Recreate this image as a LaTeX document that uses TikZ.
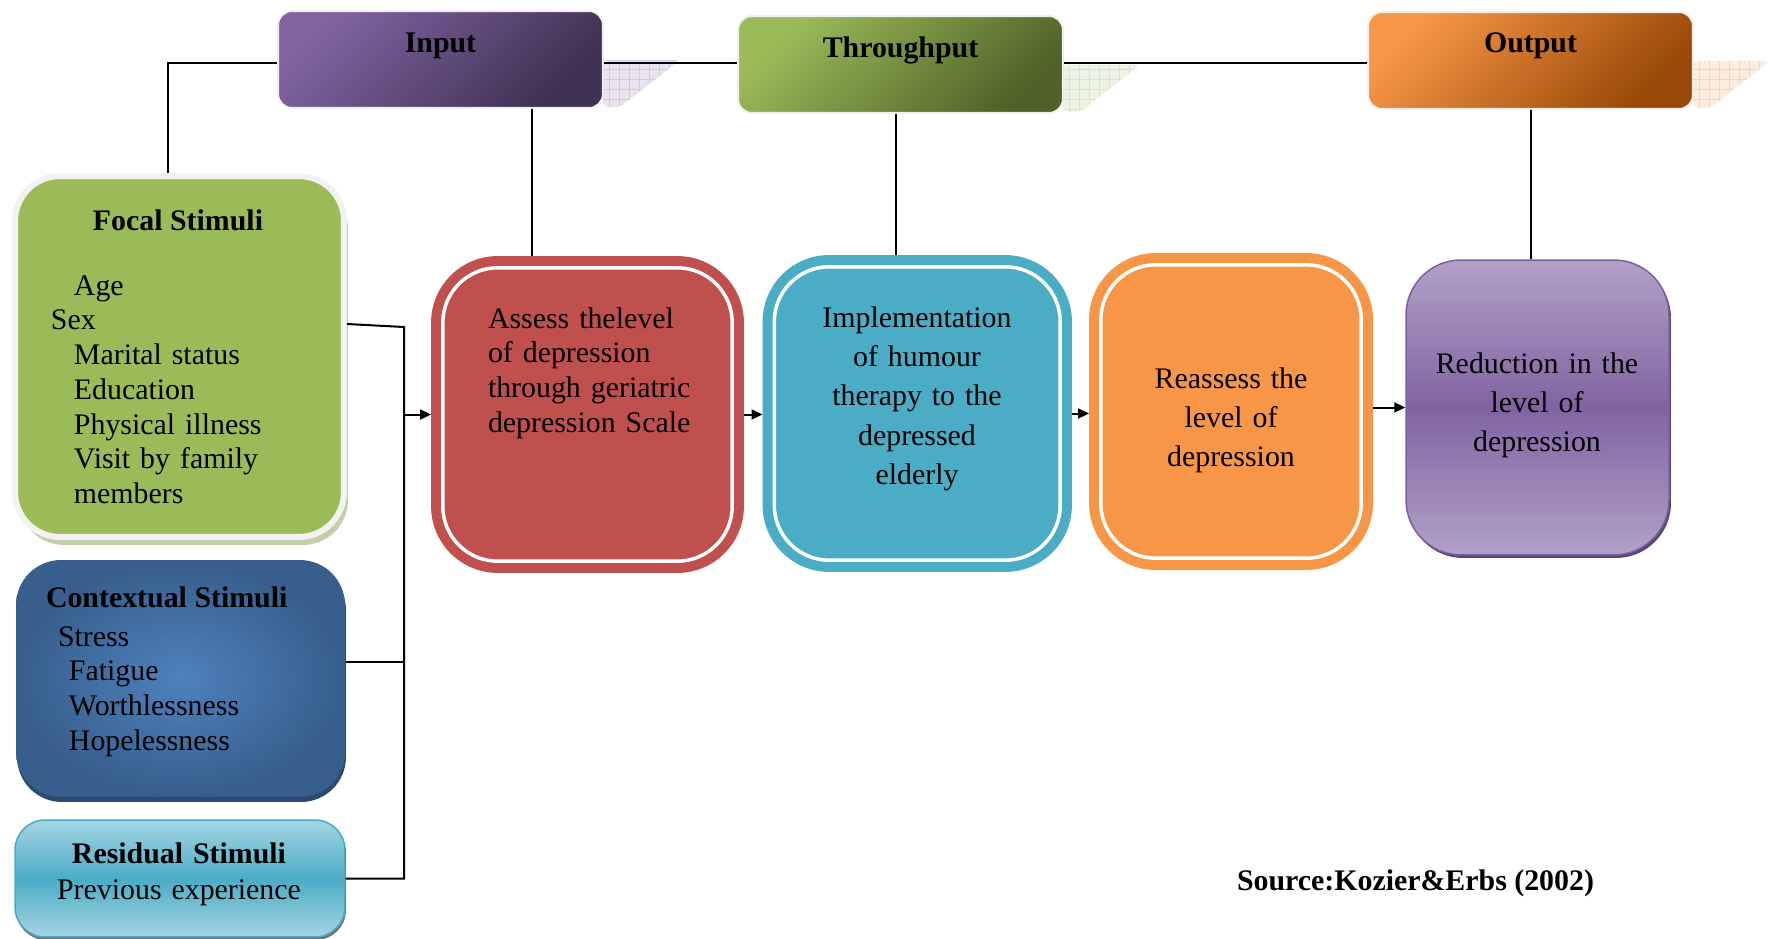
\documentclass[tikz,border=0pt]{standalone}
\usepackage{fontspec}
\setmainfont{Liberation Serif}
\usetikzlibrary{arrows.meta,shadows}

\definecolor{inA}{HTML}{8064A2}
\definecolor{inB}{HTML}{3F3151}
\definecolor{thA}{HTML}{9BBB59}
\definecolor{thB}{HTML}{4F6228}
\definecolor{outA}{HTML}{F79646}
\definecolor{outB}{HTML}{984807}
\definecolor{focgreen}{HTML}{9BBB59}
\definecolor{focborder}{HTML}{F2F2F2}
\definecolor{focshadow}{HTML}{C3CFA8}
\definecolor{ctxin}{HTML}{4F81BD}
\definecolor{ctxout}{HTML}{375E8C}
\definecolor{ctxdark}{HTML}{2A4A70}
\definecolor{resA}{HTML}{A5D5E2}
\definecolor{resB}{HTML}{4BACC6}
\definecolor{resline}{HTML}{46AAC5}
\definecolor{redfill}{HTML}{C0504D}
\definecolor{bluefill}{HTML}{4BACC6}
\definecolor{orangefill}{HTML}{F79646}
\definecolor{purA}{HTML}{B2A1C7}
\definecolor{purB}{HTML}{8064A2}
\definecolor{purline}{HTML}{7A5F9E}
\definecolor{purdark}{HTML}{5B4577}
\definecolor{infold}{HTML}{E8E3EF}
\definecolor{ingrid}{HTML}{D2C8E0}
\definecolor{thfold}{HTML}{EEF4E3}
\definecolor{thgrid}{HTML}{D8E6C0}
\definecolor{outfold}{HTML}{FDEBDD}
\definecolor{outgrid}{HTML}{F9D2B3}

\newcommand{\txtsize}{\fontsize{17}{19.8}\selectfont}
\newcommand{\boxsize}{\fontsize{17}{22.4}\selectfont}

\begin{document}
\begin{tikzpicture}[x=0.02cm,y=-0.02cm,line width=0.04cm,font=\txtsize,
    >={Triangle[length=0.22cm,width=0.2cm]}]
    \tikzstyle{hdr}=[rounded corners=0.28cm,minimum width=6.5cm,minimum height=1.94cm,draw=black!6,line width=0.04cm]
    \tikzstyle{stim}=[rounded corners=0.9cm,inner sep=0pt]
    \tikzstyle{ringbox}=[rounded corners=1.1cm,minimum height=5.87cm,line width=0.2cm,double=white,double distance=0.07cm,outer sep=0.235cm]
    \tikzstyle{lbl}=[inner sep=0pt,font=\txtsize\bfseries]
    \tikzstyle{txt}=[inner sep=0pt,align=left,text width=6cm]
    \tikzstyle{ctxt}=[inner sep=0pt,align=center,text width=5.2cm,font=\boxsize]

    \useasboundingbox (0,0) rectangle (1777,939);
    \clip (0,0) rectangle (1777,939);

    % header boxes
    \node[hdr,top color=inA,bottom color=inB,shading angle=45] (input) at (440.5,59.5) {};
    \node[hdr,top color=thA,bottom color=thB,shading angle=45] (thru) at (900.5,64.5) {};
    \node[hdr,top color=outA,bottom color=outB,shading angle=45] (output) at (1530.5,60.5) {};

    \foreach \hx/\hy/\fc/\gc in {603/60/infold/ingrid,1063/65/thfold/thgrid,1693/61/outfold/outgrid} {
        \begin{scope}
            \clip[rounded corners=0.1cm] (\hx,\hy) -- ++(77,0) -- ++(-60,47) -- ++(-17,0) -- cycle;
            \fill[\fc] (\hx,\hy) rectangle ++(80,50);
            \draw[\gc,line width=0.02cm,step=0.2cm] (\hx,\hy) grid ++(80,50);
        \end{scope}
    }

    % stimuli
    \node[stim,fill=focgreen,draw=focborder,line width=0.12cm,minimum width=6.58cm,minimum height=7.22cm,
          drop shadow={shadow xshift=0.08cm,shadow yshift=-0.16cm,fill=focshadow,opacity=1}] (focal) at (179.5,356.5) {};
    \node[stim,inner color=ctxin,outer color=ctxout,minimum width=6.58cm,minimum height=4.74cm,
          drop shadow={shadow xshift=0.02cm,shadow yshift=-0.1cm,fill=ctxdark,opacity=1}] (context) at (180.5,678.5) {};
    \node[stim,rounded corners=0.6cm,top color=resA,bottom color=resA,middle color=resB,draw=resline,line width=0.03cm,
          minimum width=6.6cm,minimum height=2.34cm,
          drop shadow={shadow xshift=0.02cm,shadow yshift=-0.06cm,fill=black!55,opacity=1}] (residual) at (180,878.5) {};

    % process boxes
    \node[ringbox,fill=redfill,draw=redfill,minimum width=5.79cm] (red) at (587.5,414.5) {};
    \node[ringbox,fill=bluefill,draw=bluefill,minimum width=5.72cm] (blue) at (917.25,413.5) {};
    \node[ringbox,fill=orangefill,draw=orangefill,minimum width=5.21cm] (orange) at (1231,411.5) {};
    \node[rounded corners=1.1cm,top color=purA,bottom color=purA,middle color=purB,draw=purline,line width=0.03cm,
          minimum width=5.26cm,minimum height=5.9cm,
          drop shadow={shadow xshift=0.04cm,shadow yshift=-0.06cm,fill=purdark,opacity=1}] (purple) at (1537.5,407.5) {};

    % texts
    \node[lbl,anchor=base] (inputtxt) at (440.5,53) {Input};
    \node[lbl,anchor=base] (thrutxt) at (900.5,58) {Throughput};
    \node[lbl,anchor=base] (outputtxt) at (1530.5,53) {Output};

    \node[lbl,anchor=base] (focaltitle) at (178,231) {Focal Stimuli};
    \node[txt,anchor=base west] (focallist) at (50,295) {\hspace*{0.46cm}Age\\Sex\\\hspace*{0.46cm}Marital status\\
        \hspace*{0.46cm}Education\\\hspace*{0.46cm}Physical illness\\\hspace*{0.46cm}Visit by family\\\hspace*{0.46cm}members};
    \node[lbl,anchor=base west] (ctxtitle) at (45,607) {Contextual Stimuli};
    \node[txt,anchor=base west] (ctxlist) at (57,646) {Stress\\\hspace*{0.22cm}Fatigue\\\hspace*{0.22cm}Worthlessness\\\hspace*{0.22cm}Hopelessness};
    \node[inner sep=0pt,align=center,text width=6cm,font=\fontsize{17}{21}\selectfont,anchor=base] (restxt) at (179,863)
        {\textbf{Residual Stimuli}\\Previous experience};

    \node[txt,anchor=base west] (redtxt) at (487,328) {Assess thelevel\\of depression\\through geriatric\\depression Scale};
    \node[ctxt,anchor=base] (bluetxt) at (917,327) {Implementation\\of humour\\therapy to the\\depressed\\elderly};
    \node[ctxt,anchor=base] (orangetxt) at (1231,388) {Reassess the\\level of\\depression};
    \node[ctxt,anchor=base] (purpletxt) at (1537,373) {Reduction in the\\level of\\depression};

    \node[lbl,anchor=base west] (source) at (1236,890) {Source:Kozier\&Erbs (2002)};

    % connectors
    \draw (168,0 |- focal.north) |- (input.west |- 0,63);
    \draw (input.east |- 0,63) -- (thru.west |- 0,63);
    \draw (thru.east |- 0,63) -- (output.west |- 0,63);
    \draw (532,0 |- input.south) -- (532,0 |- red.north);
    \draw (896,0 |- thru.south) -- (896,0 |- blue.north);
    \draw (output.south) -- (output.south |- purple.north);

    \draw (focal.east |- 0,324) -- (404,327) |- (residual.east);
    \draw (context.east |- 0,662) -- (404,662);
    \draw[->] (404,0 |- red.west) -- (red.west);

    \draw[->] (red.east) -- (red.east -| blue.west);
    \draw[->] (blue.east) -- (blue.east -| orange.west);
    \draw[->] (purple.west -| orange.east) -- (purple.west);
\end{tikzpicture}
\end{document}
